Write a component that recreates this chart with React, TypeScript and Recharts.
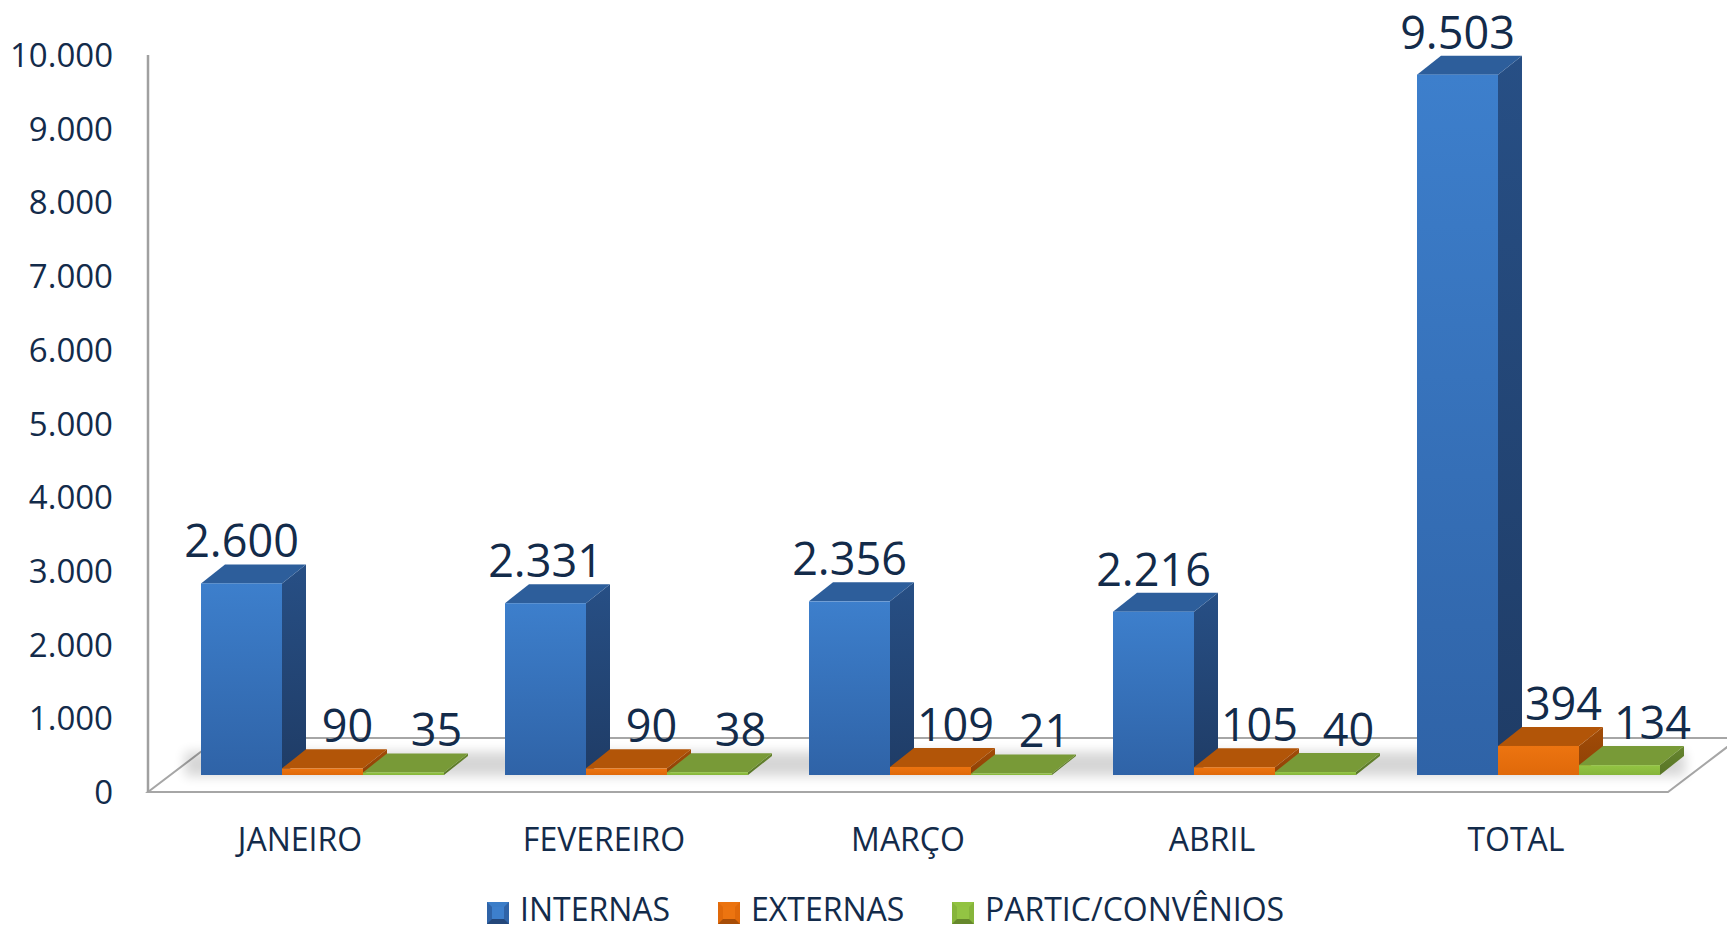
import { BarChart, Bar, XAxis, YAxis, LabelList } from "recharts";

const categories = ["JANEIRO", "FEVEREIRO", "MARÇO", "ABRIL", "TOTAL"];
const internas = [2600, 2331, 2356, 2216, 9503];
const externas = [90, 90, 109, 105, 394];
const partic = [35, 38, 21, 40, 134];
const yTicks = [0, 1000, 2000, 3000, 4000, 5000, 6000, 7000, 8000, 9000, 10000];

const data = categories.map((name, i) => ({
    name,
    internas: internas[i],
    externas: externas[i],
    partic: partic[i],
}));

// look of each series
const series = [
    { key: "internas", name: "INTERNAS", id: "blue", front: ["#3d7fcc", "#2f63a7"], top: "#2d5e9b", side: ["#274f85", "#1f3c66"], labelDx: 0 },
    { key: "externas", name: "EXTERNAS", id: "orange", front: ["#ec7410", "#e0690a"], top: "#b25508", side: ["#a24c07", "#8e4106"], labelDx: 25 },
    { key: "partic", name: "PARTIC/CONVÊNIOS", id: "green", front: ["#93c443", "#86b53b"], top: "#789a37", side: ["#66852e", "#587527"], labelDx: 33 },
];

const W = 1727;
const H = 930;
const LEFT = 148;
const RIGHT = 1668;
const TOP = 55;
const BASE = 792;
const DX = 24; // 3d depth
const DY = 19;
const LIFT = 17; // bars stand a bit behind the front floor edge
const SHIFT = 22;
const TEXT = "#132b4a";
const FONT = "'Open Sans', sans-serif";

const fmt = (v: number) => String(v).replace(/\B(?=(\d{3})+(?!\d))/g, ".");

function Box(props: any) {
    const { x, y, width, height, s } = props;
    if (x == null || y == null) return null;
    const fx = x + SHIFT;
    const top = y - LIFT;
    const h = Math.max(height, 1.5);
    const bot = top + h;
    const r = fx + width;
    return (
        <g>
            <polygon points={`${r},${top} ${r + DX},${top - DY} ${r + DX},${bot - DY} ${r},${bot}`} fill={`url(#side-${s.id})`} />
            <polygon points={`${fx},${top} ${fx + DX},${top - DY} ${r + DX},${top - DY} ${r},${top}`} fill={s.top} />
            <rect x={fx} y={top} width={width} height={h} fill={`url(#front-${s.id})`} />
        </g>
    );
}

function ValueLabel(props: any, s: any) {
    const { x, y, width, value } = props;
    if (x == null) return null;
    return (
        <text
            x={x + SHIFT + width / 2 + s.labelDx}
            y={y - LIFT - DY - 7}
            textAnchor="middle"
            fill={TEXT}
            fontSize={45}
            fontFamily={FONT}
        >
            {fmt(value)}
        </text>
    );
}

function XTick(props: any) {
    const { x, y, payload } = props;
    return (
        <text x={x} y={y + 59} textAnchor="middle" fill={TEXT} fontSize={32} fontFamily={FONT}>
            {payload.value}
        </text>
    );
}

function YTick(props: any) {
    const { x, y, payload } = props;
    return (
        <text x={x - 35} y={y + 12} textAnchor="end" fill={TEXT} fontSize={33} fontFamily={FONT}>
            {fmt(payload.value)}
        </text>
    );
}

function Background() {
    const backY = 738;
    const slope = 71;
    return (
        <svg width={W} height={H} style={{ position: "absolute", left: 0, top: 0 }}>
            <defs>
                {series.map((s) => (
                    <linearGradient key={"f" + s.id} id={`front-${s.id}`} x1="0" y1="0" x2="0" y2="1">
                        <stop offset="0%" stopColor={s.front[0]} />
                        <stop offset="100%" stopColor={s.front[1]} />
                    </linearGradient>
                ))}
                {series.map((s) => (
                    <linearGradient key={"s" + s.id} id={`side-${s.id}`} x1="0" y1="0" x2="0" y2="1">
                        <stop offset="0%" stopColor={s.side[0]} />
                        <stop offset="100%" stopColor={s.side[1]} />
                    </linearGradient>
                ))}
                <filter id="soft" x="-10%" y="-100%" width="120%" height="300%">
                    <feGaussianBlur stdDeviation="6" />
                </filter>
            </defs>
            <polygon
                points={`${LEFT},${BASE} ${RIGHT},${BASE} ${RIGHT + slope},${backY} ${LEFT + slope},${backY}`}
                fill="#ffffff"
                stroke="#a6a6a6"
                strokeWidth={2}
            />
            <rect x={185} y={752} width={1500} height={24} fill="#000" opacity={0.16} filter="url(#soft)" />
        </svg>
    );
}

function LegendIcon({ x, y, s }: any) {
    const n = 22;
    return (
        <g>
            <rect x={x} y={y} width={n} height={n} fill={s.front[1]} />
            <polygon points={`${x},${y} ${x + n},${y} ${x + n / 2},${y + n / 2}`} fill={s.front[0]} opacity={0.9} />
            <polygon points={`${x},${y + n} ${x + n},${y + n} ${x + n / 2},${y + n / 2}`} fill={s.side[1]} opacity={0.7} />
            <rect x={x + 5} y={y + 5} width={n - 10} height={n - 10} fill={s.front[0]} />
        </g>
    );
}

function Legend3D() {
    const starts = [487, 718, 952];
    return (
        <svg width={W} height={H} style={{ position: "absolute", left: 0, top: 0, pointerEvents: "none" }}>
            {series.map((s, i) => (
                <g key={s.id}>
                    <LegendIcon x={starts[i]} y={902} s={s} />
                    <text x={starts[i] + 33} y={921} fill={TEXT} fontSize={32} fontFamily={FONT}>
                        {s.name}
                    </text>
                </g>
            ))}
        </svg>
    );
}

export default function App() {
    return (
        <div style={{ position: "absolute", left: 0, top: 0, width: W, height: H, background: "#fff", overflow: "hidden" }}>
            <Background />
            <div style={{ position: "absolute", left: 0, top: 0 }}>
                <BarChart
                    width={W}
                    height={H}
                    data={data}
                    margin={{ top: TOP, right: W - RIGHT, bottom: H - BASE - 60, left: 0 }}
                    barGap={0}
                    barSize={81}
                >
                    <XAxis
                        dataKey="name"
                        height={60}
                        axisLine={false}
                        tickLine={false}
                        tickSize={0}
                        tickMargin={0}
                        interval={0}
                        tick={<XTick />}
                    />
                    <YAxis
                        width={LEFT}
                        domain={[0, 10000]}
                        ticks={yTicks}
                        interval={0}
                        tickLine={false}
                        tickSize={0}
                        tickMargin={0}
                        axisLine={{ stroke: "#a0a0a0", strokeWidth: 2.5 }}
                        tick={<YTick />}
                    />
                    {series.map((s) => (
                        <Bar
                            key={s.key}
                            dataKey={s.key}
                            name={s.name}
                            isAnimationActive={false}
                            shape={(p: any) => <Box {...p} s={s} />}
                        >
                            <LabelList dataKey={s.key} content={(p: any) => ValueLabel(p, s)} />
                        </Bar>
                    ))}
                </BarChart>
            </div>
            <Legend3D />
        </div>
    );
}
